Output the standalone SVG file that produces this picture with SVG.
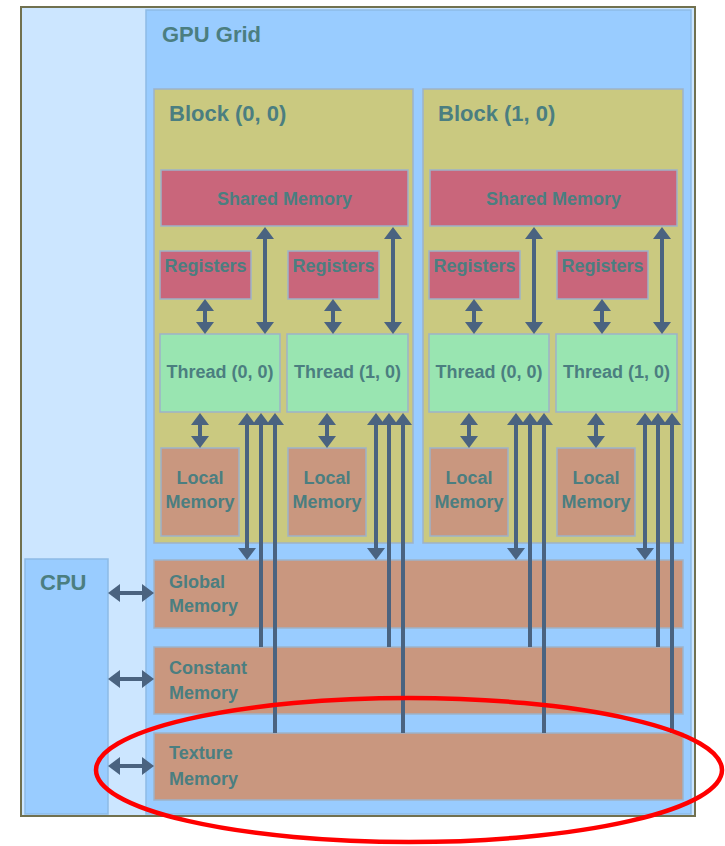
<svg xmlns="http://www.w3.org/2000/svg" width="725" height="846" viewBox="0 0 725 846">
<style>
.t{font-family:"Liberation Sans",Arial,sans-serif;font-weight:bold;fill:#4b7e80}
.big{font-size:22px}
.sm{font-size:18px}
.box{stroke:#9db2c9;stroke-width:1.5}
.blk{fill:#cac980}
.shr{fill:#c9667b}
.thr{fill:#99e5b1}
.mem{fill:#c9977f}
.con{stroke:#4a6380;stroke-width:4;fill:none}
.ar2{marker-start:url(#ah);marker-end:url(#ah)}
.ar1{marker-start:url(#ah)}
</style>
<defs>
<marker id="ah" markerUnits="userSpaceOnUse" markerWidth="12" markerHeight="18" viewBox="0 -9 12 18" refX="3" refY="0" orient="auto-start-reverse" overflow="visible">
<path d="M0,-9 L12,0 L0,9 z" fill="#4a6380"/>
</marker>
</defs>
<rect width="725" height="846" fill="#ffffff"/>
<g id="frame">
<rect x="21" y="7" width="674" height="809" fill="#cce6ff" stroke="#71714f" stroke-width="2"/>
</g>
<g id="gpu-grid">
<rect x="146" y="10" width="545" height="804" fill="#99ccff" stroke="#8dbbe6" stroke-width="1.5"/>
<text class="t big" x="162" y="42">GPU Grid</text>
</g>
<g id="cpu">
<rect x="25" y="559" width="83" height="255" fill="#99ccff" stroke="#8dbbe6" stroke-width="1.5"/>
<text class="t big" x="40" y="590">CPU</text>
</g>
<g id="block-0-0">
<rect class="box blk" x="154" y="89" width="259" height="454"/>
<text class="t big" x="169" y="121">Block (0, 0)</text>
</g>
<g id="block-1-0">
<rect class="box blk" x="423" y="89" width="260" height="454"/>
<text class="t big" x="438" y="121">Block (1, 0)</text>
</g>
<g id="shared-0">
<rect class="box shr" x="161" y="170" width="247" height="56"/>
<text class="t sm" x="284.5" y="205" text-anchor="middle">Shared Memory</text>
</g>
<g id="shared-1">
<rect class="box shr" x="430" y="170" width="247" height="56"/>
<text class="t sm" x="553.5" y="205" text-anchor="middle">Shared Memory</text>
</g>
<g id="reg-0-0">
<rect class="box shr" x="160" y="251" width="91" height="48"/>
<text class="t sm" x="205.5" y="272" text-anchor="middle">Registers</text>
</g>
<g id="reg-0-1">
<rect class="box shr" x="288" y="251" width="91" height="48"/>
<text class="t sm" x="333.5" y="272" text-anchor="middle">Registers</text>
</g>
<g id="reg-1-0">
<rect class="box shr" x="429" y="251" width="91" height="48"/>
<text class="t sm" x="474.5" y="272" text-anchor="middle">Registers</text>
</g>
<g id="reg-1-1">
<rect class="box shr" x="557" y="251" width="91" height="48"/>
<text class="t sm" x="602.5" y="272" text-anchor="middle">Registers</text>
</g>
<g id="thread-0-0">
<rect class="box thr" x="160" y="334" width="120" height="78"/>
<text class="t sm" x="220" y="378" text-anchor="middle">Thread (0, 0)</text>
</g>
<g id="thread-0-1">
<rect class="box thr" x="287" y="334" width="121" height="78"/>
<text class="t sm" x="347.5" y="378" text-anchor="middle">Thread (1, 0)</text>
</g>
<g id="thread-1-0">
<rect class="box thr" x="429" y="334" width="120" height="78"/>
<text class="t sm" x="489" y="378" text-anchor="middle">Thread (0, 0)</text>
</g>
<g id="thread-1-1">
<rect class="box thr" x="556" y="334" width="121" height="78"/>
<text class="t sm" x="616.5" y="378" text-anchor="middle">Thread (1, 0)</text>
</g>
<g id="local-0-0">
<rect class="box mem" x="161" y="448" width="78" height="88"/>
<text class="t sm" x="200" y="484" text-anchor="middle">Local</text>
<text class="t sm" x="200" y="508" text-anchor="middle">Memory</text>
</g>
<g id="local-0-1">
<rect class="box mem" x="288" y="448" width="78" height="88"/>
<text class="t sm" x="327" y="484" text-anchor="middle">Local</text>
<text class="t sm" x="327" y="508" text-anchor="middle">Memory</text>
</g>
<g id="local-1-0">
<rect class="box mem" x="430" y="448" width="78" height="88"/>
<text class="t sm" x="469" y="484" text-anchor="middle">Local</text>
<text class="t sm" x="469" y="508" text-anchor="middle">Memory</text>
</g>
<g id="local-1-1">
<rect class="box mem" x="557" y="448" width="78" height="88"/>
<text class="t sm" x="596" y="484" text-anchor="middle">Local</text>
<text class="t sm" x="596" y="508" text-anchor="middle">Memory</text>
</g>
<g id="global-memory">
<rect class="box mem" x="154" y="560" width="529" height="68"/>
<text class="t sm" x="169" y="588">Global</text>
<text class="t sm" x="169" y="612">Memory</text>
</g>
<g id="constant-memory">
<rect class="box mem" x="154" y="647" width="529" height="67"/>
<text class="t sm" x="169" y="674">Constant</text>
<text class="t sm" x="169" y="699">Memory</text>
</g>
<g id="texture-memory">
<rect class="box mem" x="154" y="733" width="529" height="67"/>
<text class="t sm" x="169" y="759">Texture</text>
<text class="t sm" x="169" y="785">Memory</text>
</g>
<g id="connectors">
<!-- registers <-> thread -->
<line class="con ar2" x1="205" y1="308" x2="205" y2="325"/>
<line class="con ar2" x1="333" y1="308" x2="333" y2="325"/>
<line class="con ar2" x1="474" y1="308" x2="474" y2="325"/>
<line class="con ar2" x1="602" y1="308" x2="602" y2="325"/>
<!-- shared <-> thread -->
<line class="con ar2" x1="265" y1="236" x2="265" y2="325"/>
<line class="con ar2" x1="393" y1="236" x2="393" y2="325"/>
<line class="con ar2" x1="534" y1="236" x2="534" y2="325"/>
<line class="con ar2" x1="662" y1="236" x2="662" y2="325"/>
<!-- thread <-> local -->
<line class="con ar2" x1="200" y1="422" x2="200" y2="439"/>
<line class="con ar2" x1="327" y1="422" x2="327" y2="439"/>
<line class="con ar2" x1="469" y1="422" x2="469" y2="439"/>
<line class="con ar2" x1="596" y1="422" x2="596" y2="439"/>
<!-- thread <-> global -->
<line class="con ar2" x1="247" y1="422" x2="247" y2="551"/>
<line class="con ar2" x1="376" y1="422" x2="376" y2="551"/>
<line class="con ar2" x1="516" y1="422" x2="516" y2="551"/>
<line class="con ar2" x1="645" y1="422" x2="645" y2="551"/>
<!-- constant -> thread -->
<line class="con ar1" x1="261" y1="422" x2="261" y2="647"/>
<line class="con ar1" x1="389" y1="422" x2="389" y2="647"/>
<line class="con ar1" x1="530" y1="422" x2="530" y2="647"/>
<line class="con ar1" x1="658" y1="422" x2="658" y2="647"/>
<!-- texture -> thread -->
<line class="con ar1" x1="275" y1="422" x2="275" y2="733"/>
<line class="con ar1" x1="403" y1="422" x2="403" y2="733"/>
<line class="con ar1" x1="544" y1="422" x2="544" y2="733"/>
<line class="con ar1" x1="672" y1="422" x2="672" y2="733"/>
<!-- CPU <-> memories -->
<line class="con ar2" x1="117" y1="593" x2="145" y2="593"/>
<line class="con ar2" x1="117" y1="679" x2="145" y2="679"/>
<line class="con ar2" x1="117" y1="766" x2="145" y2="766"/>
</g>
<g id="highlight">
<ellipse cx="409" cy="770" rx="313" ry="72" fill="none" stroke="#ff0000" stroke-width="4.5"/>
</g>
</svg>
